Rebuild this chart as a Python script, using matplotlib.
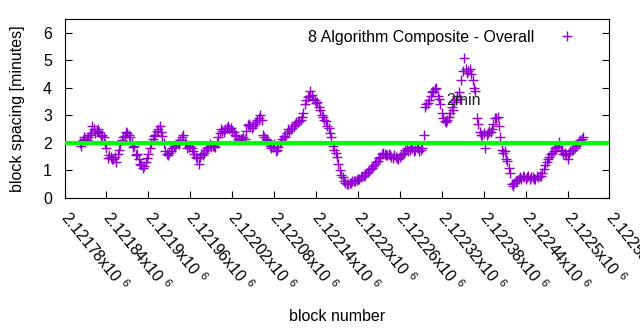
import numpy as np
import matplotlib.pyplot as plt
from matplotlib.ticker import MultipleLocator
from matplotlib.transforms import ScaledTranslation

plt.rcParams['font.family'] = ['Liberation Sans', 'DejaVu Sans']
plt.rcParams['mathtext.fontset'] = 'custom'
plt.rcParams['mathtext.rm'] = 'Liberation Sans'

# -------------------------------
# data: block spacing, one value every 2 blocks
# -------------------------------
first_block = 2121802
block_step = 2
spacing = [
    2.0, 1.9, 2.1, 2.2, 2.15, 2.1, 2.2, 2.3, 2.35, 2.6, 2.5, 2.35, 2.45, 2.5, 2.4, 2.25, 2.3, 2.2, 1.95, 1.8,
    1.45, 1.55, 1.5, 1.4, 1.4, 1.5, 1.3, 1.6, 1.75, 1.95, 2.1, 2.2, 2.25, 2.4, 2.35, 2.3, 2.2, 2.0, 1.85, 1.9,
    1.55, 1.6, 1.4, 1.25, 1.2, 1.1, 1.15, 1.3, 1.45, 1.6, 1.8, 2.0, 2.15, 2.25, 2.3, 2.45, 2.5, 2.6, 2.4, 2.25,
    2.0, 1.7, 1.6, 1.55, 1.65, 1.7, 1.8, 1.9, 1.85, 1.95, 2.0, 1.95, 2.1, 2.2, 2.3, 2.0, 1.95, 1.8, 1.85, 1.9,
    1.8, 1.7, 1.6, 1.5, 1.45, 1.25, 1.5, 1.6, 1.55, 1.65, 1.75, 1.8, 1.85, 1.95, 1.85, 1.9, 1.9, 1.85, 2.0, 2.2,
    2.35, 2.5, 2.45, 2.4, 2.5, 2.55, 2.6, 2.5, 2.55, 2.45, 2.4, 2.3, 2.25, 2.15, 2.1, 2.15, 2.15, 2.2, 2.15, 2.45,
    2.65, 2.7, 2.6, 2.55, 2.6, 2.7, 2.75, 2.85, 2.9, 3.0, 2.85, 2.3, 2.2, 2.15, 2.1, 2.0, 1.9, 1.8, 1.85, 1.95,
    1.7, 1.75, 1.85, 2.0, 2.05, 2.15, 2.25, 2.2, 2.35, 2.5, 2.45, 2.5, 2.55, 2.6, 2.7, 2.75, 2.75, 2.8, 2.85, 2.95,
    3.1, 3.4, 3.55, 3.65, 3.7, 3.9, 3.75, 3.6, 3.55, 3.45, 3.5, 3.3, 3.2, 3.0, 2.95, 2.85, 2.8, 2.6, 2.55, 2.35,
    2.2, 1.9, 1.75, 1.65, 1.5, 1.25, 1.0, 0.85, 0.75, 0.6, 0.55, 0.5, 0.5, 0.55, 0.55, 0.6, 0.6, 0.6, 0.65, 0.7,
    0.7, 0.75, 0.8, 0.8, 0.85, 0.9, 0.95, 1.0, 1.05, 1.1, 1.15, 1.25, 1.3, 1.35, 1.45, 1.5, 1.6, 1.65, 1.6, 1.55,
    1.55, 1.6, 1.55, 1.5, 1.45, 1.55, 1.5, 1.45, 1.4, 1.5, 1.55, 1.6, 1.65, 1.75, 1.8, 1.7, 1.75, 1.85, 1.8, 1.7,
    1.75, 1.85, 1.8, 1.7, 1.75, 1.8, 2.3, 3.3, 3.4, 3.45, 3.55, 3.7, 3.85, 3.9, 3.95, 4.0, 3.7, 3.6, 3.4, 3.1,
    2.9, 2.8, 2.75, 2.85, 2.95, 3.1, 3.3, 3.2, 3.5, 3.55, 3.7, 3.85, 3.6, 4.3, 4.6, 5.1, 4.7, 4.55, 4.6, 4.7,
    4.5, 4.3, 4.0, 3.9, 2.9, 2.7, 2.4, 2.3, 2.3, 2.35, 1.8, 2.3, 2.35, 2.45, 2.4, 2.5, 2.7, 2.9, 2.9, 2.95,
    2.6, 2.2, 1.75, 1.65, 1.7, 1.4, 1.35, 1.1, 0.9, 0.5, 0.45, 0.55, 0.6, 0.65, 0.7, 0.75, 0.7, 0.8, 0.75, 0.7,
    0.75, 0.8, 0.7, 0.75, 0.75, 0.7, 0.7, 0.8, 0.75, 0.8, 0.8, 0.9, 1.05, 1.2, 1.3, 1.4, 1.5, 1.6, 1.65, 1.7,
    1.8, 1.85, 1.9, 2.05, 1.75, 1.7, 1.6, 1.65, 1.55, 1.4, 1.65, 1.7, 1.75, 1.75, 1.8, 1.9, 1.95, 2.0, 2.1, 2.15,
    2.2,
]
blocks = first_block + block_step * np.arange(len(spacing))

target = 2
x_min, x_max, x_step = 2121780, 2122560, 60
x_ticks = np.arange(x_min, x_max + 1, x_step)
x_labels = [f"{t/1e6:.6g}x10 $^{{6}}$" for t in x_ticks]

# -------------------------------
# chart
# -------------------------------
fig = plt.figure(figsize=(6.4, 3.3), dpi=100)
ax = fig.add_axes([0.1008, 0.4, 0.8515, 0.5424])

ax.plot(blocks, spacing, linestyle='none', marker='+', markersize=7,
        markeredgewidth=1.0, color='#9400d3',
        label='8 Algorithm Composite - Overall', zorder=2)
ax.axhline(target, color='#00ff00', linewidth=3, zorder=3)
ax.text(2122327, 3.53, '2min', fontsize=11.5, va='center', ha='left', color='#222222')

ax.set_xlim(x_min, x_max)
ax.set_ylim(0, 6.5)
ax.set_xticks(x_ticks)
ax.set_xticklabels(x_labels, rotation=-51, ha='left', va='top', rotation_mode='anchor')
ax.yaxis.set_major_locator(MultipleLocator(1))
ax.tick_params(direction='in', length=5, labelsize=11.5, right=True, top=False)
ax.tick_params(axis='y', pad=9)
ax.tick_params(axis='x', pad=7)
shift = ScaledTranslation(5 / 72, 0, fig.dpi_scale_trans)
for lab in ax.get_xticklabels():
    lab.set_transform(lab.get_transform() + shift)

ax.set_xlabel('block number', fontsize=11.5)
ax.set_ylabel('block spacing [minutes]', fontsize=11.5)
ax.xaxis.set_label_coords(0.5, -0.62)
ax.yaxis.set_label_coords(-0.072, 0.5)

ax.legend(loc='upper right', bbox_to_anchor=(0.985, 1.02), frameon=False,
          markerfirst=False, fontsize=11.5, handlelength=2.5)

fig.savefig('out.png', dpi=100)
